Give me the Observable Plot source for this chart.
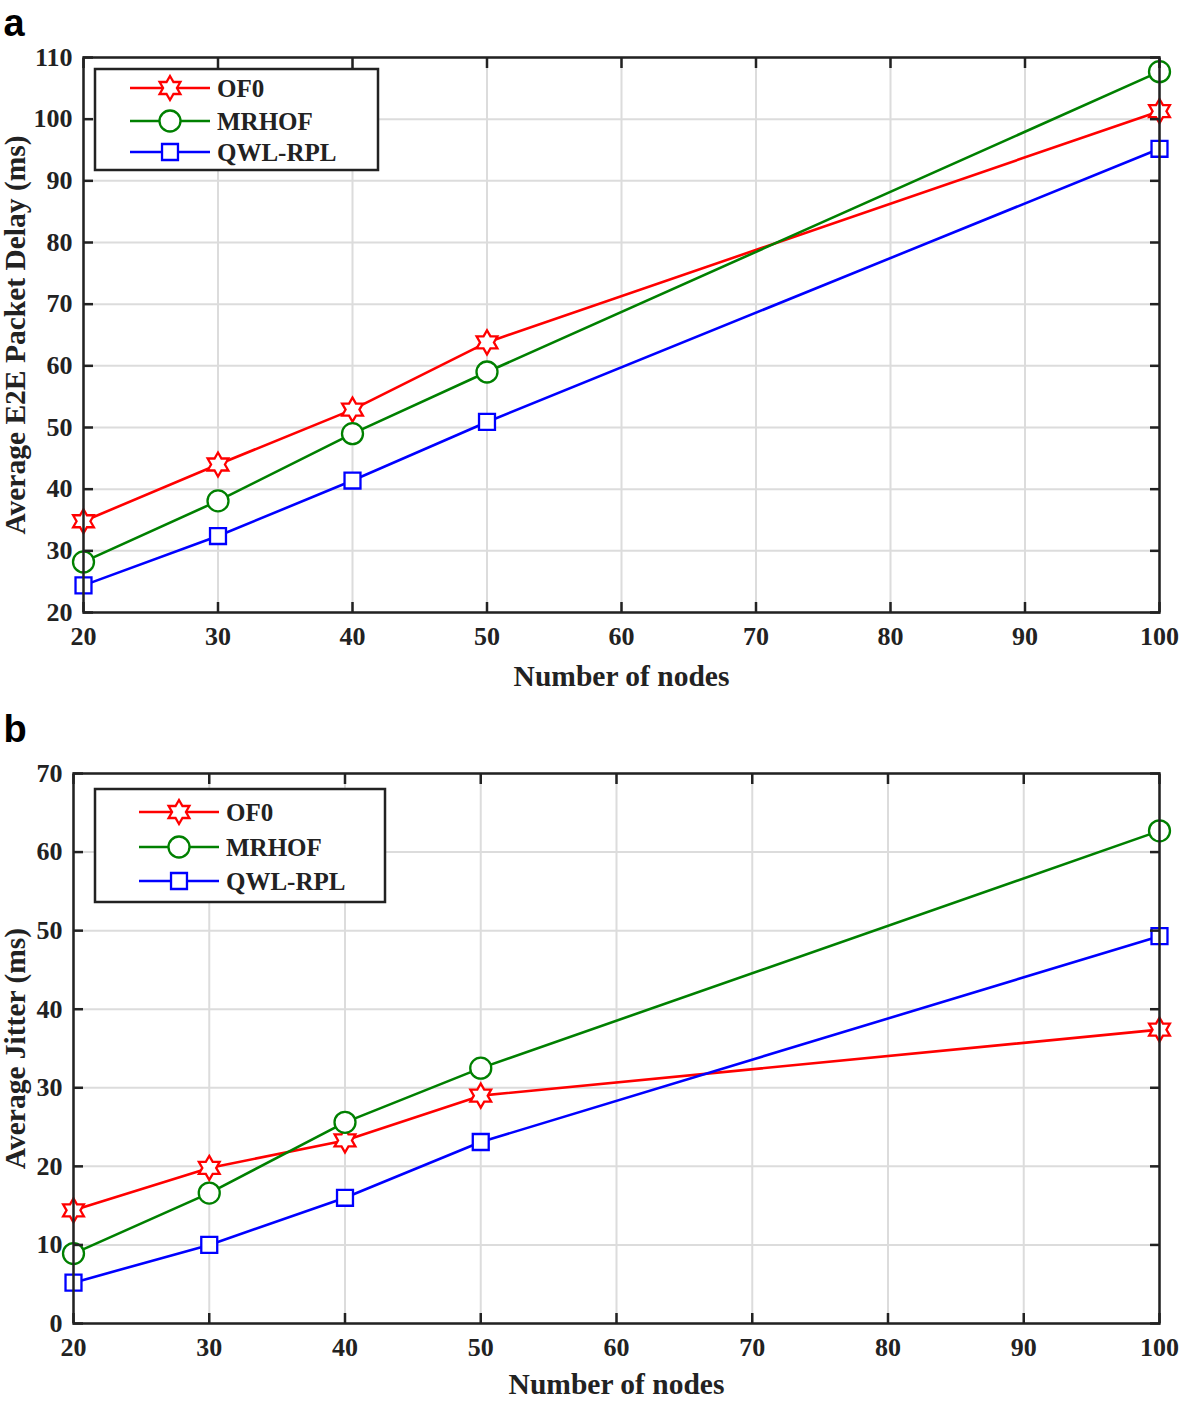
<!DOCTYPE html>
<html>
<head>
<meta charset="utf-8">
<script src="https://cdn.jsdelivr.net/npm/d3@7"></script>
<script src="https://cdn.jsdelivr.net/npm/@observablehq/plot@0.6"></script>
<style>
  html, body { margin: 0; padding: 0; background: #fff; }
  #root { width: 1181px; height: 1402px; position: relative; overflow: hidden; }
  #root svg { display: block; }
</style>
</head>
<body>
<div id="root"></div>
<script>
// ---- data ----
const nodes = [20, 30, 40, 50, 100];
const seriesNames = ["OF0", "MRHOF", "QWL-RPL"];
const delayOF0 = [34.8, 44.0, 52.9, 63.8, 101.3];
const delayMRHOF = [28.2, 38.1, 49.0, 59.0, 107.7];
const delayQWL = [24.4, 32.4, 41.4, 50.9, 95.2];
const jitterOF0 = [14.4, 19.8, 23.3, 29.0, 37.4];
const jitterMRHOF = [8.9, 16.6, 25.6, 32.5, 62.7];
const jitterQWL = [5.2, 10.0, 16.0, 23.1, 49.3];
const xTicks = [20, 30, 40, 50, 60, 70, 80, 90, 100];
const yTicksA = [20, 30, 40, 50, 60, 70, 80, 90, 100, 110];
const yTicksB = [0, 10, 20, 30, 40, 50, 60, 70];

// ---- styles ----
const colors = {"OF0": "#ff0000", "MRHOF": "#008000", "QWL-RPL": "#0000ff"};
const hexagram = {
  draw(ctx, size) {
    const R = Math.sqrt(size / Math.PI);
    const r = R / Math.sqrt(3);
    for (let i = 0; i < 12; i++) {
      const a = -Math.PI / 2 + i * Math.PI / 6;
      const rr = i % 2 === 0 ? R : r;
      const x = rr * Math.cos(a), y = rr * Math.sin(a);
      if (i === 0) ctx.moveTo(x, y); else ctx.lineTo(x, y);
    }
    ctx.closePath();
  }
};
const symbols = {"OF0": hexagram, "MRHOF": "circle", "QWL-RPL": "square"};
const radii = {"OF0": 12, "MRHOF": 10.5, "QWL-RPL": 9};
const serif = "'Liberation Serif', 'Times New Roman', Times, serif";
const sans = "'Liberation Sans', Arial, Helvetica, sans-serif";

function rows(vals) {
  const out = [];
  seriesNames.forEach((s, k) => nodes.forEach((n, i) => out.push({series: s, x: n, y: vals[k][i]})));
  return out;
}

function panel({data, yDomain, yTicks, yLabel, letter, height, margins, xLabelDy, yLabelDx, letterDx, letterDy, legend}) {
  const [mt, mr, mb, ml] = margins;
  const marks = [
    Plot.gridX(xTicks, {stroke: "#dcdcdc", strokeOpacity: 1, strokeWidth: 2}),
    Plot.gridY(yTicks, {stroke: "#dcdcdc", strokeOpacity: 1, strokeWidth: 2}),
  ];
  for (const s of seriesNames) {
    const d = data.filter(r => r.series === s);
    marks.push(Plot.line(d, {x: "x", y: "y", stroke: colors[s], strokeWidth: 2.6}));
    marks.push(Plot.dot(d, {x: "x", y: "y", symbol: () => symbols[s], r: radii[s], stroke: colors[s], fill: "#fff", strokeWidth: 2.3}));
  }
  marks.push(
    Plot.axisX(xTicks, {anchor: "bottom", tickSize: -10, tickPadding: 24, stroke: "#222", strokeWidth: 2.5, fontSize: 26, fontWeight: "bold", fill: "#222", label: null}),
    Plot.axisX(xTicks, {anchor: "top", tickSize: -10, tickFormat: () => "", stroke: "#222", strokeWidth: 2.5, label: null}),
    Plot.axisY(yTicks, {anchor: "left", tickSize: -10, tickPadding: 21, stroke: "#222", strokeWidth: 2.5, fontSize: 26, fontWeight: "bold", fill: "#222", label: null}),
    Plot.axisY(yTicks, {anchor: "right", tickSize: -10, tickFormat: () => "", stroke: "#222", strokeWidth: 2.5, label: null}),
    Plot.frame({stroke: "#222", strokeWidth: 2.5}),
    Plot.text(["Number of nodes"], {frameAnchor: "bottom", dy: xLabelDy, text: d => d, textAnchor: "middle", lineAnchor: "middle", fontSize: 29.5, fontWeight: "bold", fill: "#222"}),
    Plot.text([yLabel], {frameAnchor: "left", dx: yLabelDx, rotate: -90, text: d => d, textAnchor: "middle", lineAnchor: "middle", fontSize: 29.5, fontWeight: "bold", fill: "#222"}),
    Plot.text([letter], {frameAnchor: "top-left", dx: letterDx, dy: letterDy, text: d => d, textAnchor: "start", lineAnchor: "bottom", fontSize: 38, fontWeight: "bold", fontFamily: sans, fill: "#000"})
  );
  const svg = Plot.plot({
    width: 1181, height,
    marginTop: mt, marginRight: mr, marginBottom: mb, marginLeft: ml,
    style: {fontFamily: serif, background: "#fff", overflow: "visible"},
    x: {domain: [20, 100], ticks: xTicks},
    y: {domain: yDomain, ticks: yTicks},
    marks
  });
  // legend
  const g = d3.select(svg).append("g");
  const L = legend;
  g.append("rect").attr("x", L.x0).attr("y", L.y0).attr("width", L.x1 - L.x0).attr("height", L.y1 - L.y0)
    .attr("fill", "#fff").attr("stroke", "#222").attr("stroke-width", 2.5);
  seriesNames.forEach((s, i) => {
    const y = L.rows[i];
    g.append("line").attr("x1", L.l0).attr("x2", L.l1).attr("y1", y).attr("y2", y)
      .attr("stroke", colors[s]).attr("stroke-width", 2.6);
    const type = s === "OF0" ? hexagram : s === "MRHOF" ? d3.symbolCircle : d3.symbolSquare;
    g.append("path").attr("transform", `translate(${L.m},${y})`)
      .attr("d", d3.symbol(type, Math.PI * radii[s] * radii[s])())
      .attr("fill", "#fff").attr("stroke", colors[s]).attr("stroke-width", 2.3);
    g.append("text").attr("x", L.tx).attr("y", y).attr("dy", "0.35em")
      .attr("text-anchor", "start")
      .attr("font-family", serif).attr("font-weight", "bold").attr("font-size", 25).attr("fill", "#222")
      .text(s);
  });
  return svg;
}

const root = document.getElementById("root");
root.appendChild(panel({
  data: rows([delayOF0, delayMRHOF, delayQWL]),
  yDomain: [20, 110], yTicks: yTicksA,
  yLabel: "Average E2E Packet Delay (ms)", letter: "a",
  height: 700, margins: [57, 22, 88, 83],
  xLabelDy: 64, yLabelDx: -68, letterDx: -80, letterDy: -22,
  legend: {x0: 95, x1: 378, y0: 69, y1: 170, rows: [88, 121, 152], l0: 130, l1: 210, m: 170, tx: 217}
}));
root.appendChild(panel({
  data: rows([jitterOF0, jitterMRHOF, jitterQWL]),
  yDomain: [0, 70], yTicks: yTicksB,
  yLabel: "Average Jitter (ms)", letter: "b",
  height: 702, margins: [73, 22, 79, 73],
  xLabelDy: 61, yLabelDx: -58, letterDx: -70, letterDy: -32,
  legend: {x0: 95, x1: 385, y0: 89, y1: 202, rows: [112, 147, 181], l0: 139, l1: 219, m: 179, tx: 226}
}));
</script>
</body>
</html>
